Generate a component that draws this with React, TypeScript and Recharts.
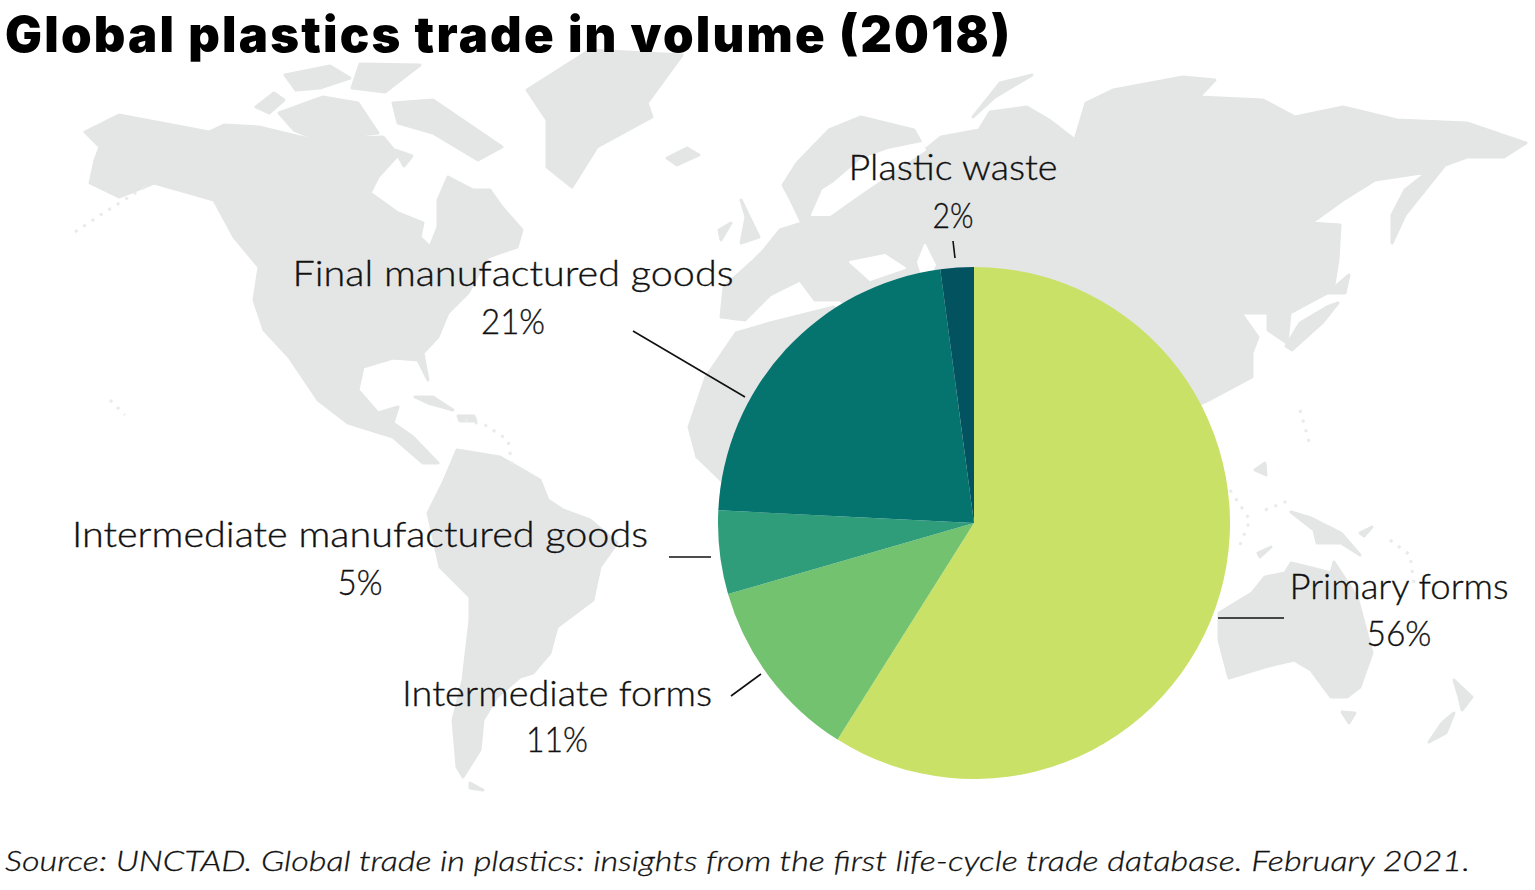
import { PieChart, Pie, Cell } from 'recharts';

const WIDTH = 1535;
const HEIGHT = 890;

const categories = ['Primary forms', 'Intermediate forms', 'Intermediate manufactured goods', 'Final manufactured goods', 'Plastic waste'];
const shares = [56, 11, 5, 21, 2];
const colors = ['#c9e166', '#73c26f', '#2f9d79', '#05746f', '#02535f'];

const pieData = categories.map((name, i) => ({ name, value: shares[i] }));

// label placement, same order as categories: [centre x, name baseline, pct baseline, name width, pct width]
const labelSpots = [
  [1399, 599, 646, 219, 65],
  [557, 706, 752, 310, 62],
  [360, 547, 595, 576, 45],
  [513, 286, 334, 441, 64],
  [953, 180, 228, 209, 41],
];
const leaderLines = [
  [1218, 618, 1284, 618],
  [731, 696, 761, 674],
  [669, 557, 711, 557],
  [633, 331, 745, 397],
  [953, 241, 955, 258],
];

// background world map, only decoration, page coordinates
const landShapes = [
  // north america
  '85,132 119,115 209,132 224,125 259,127 313,140 348,138 383,137 398,155 378,177 370,193 398,213 423,223 420,237 430,247 438,227 438,200 448,177 473,190 490,190 502,207 522,230 517,247 488,257 468,293 448,313 438,337 423,353 428,380 418,360 393,358 363,367 358,390 378,413 398,407 393,423 413,437 438,463 423,463 393,437 348,423 318,400 289,357 264,330 254,300 259,267 234,237 214,200 154,183 119,197 90,183 95,160 100,147',
  // arctic canada
  '393,103 433,100 502,147 478,160 433,133 398,123',
  '279,113 323,97 358,103 378,133 318,140 294,130',
  '256,107 274,93 284,100 269,113',
  '285,75 330,66 350,78 320,88 296,90',
  '360,64 420,65 385,92 352,88',
  '395,150 412,156 404,166',
  // greenland, iceland
  '590,50 682,55 647,103 652,117 597,147 572,187 547,167 547,120 527,90',
  '667,158 687,148 699,155 677,165',
  // caribbean
  '415,397 433,397 453,410 428,403',
  '458,416 474,416 476,421 460,421',
  // south america
  '457,450 500,457 540,480 548,500 563,510 590,520 617,543 600,567 593,600 557,627 550,653 533,673 520,677 497,697 483,720 480,750 463,777 457,767 453,720 463,680 470,620 470,597 440,567 428,513 443,483',
  '470,783 483,790 470,788',
  // eurasia
  '721,317 724,287 754,260 764,250 780,230 802,223 791,200 783,185 797,163 829,130 861,117 914,130 925,150 941,137 979,130 990,112 1027,107 1049,120 1075,140 1086,103 1113,90 1183,77 1215,80 1199,97 1263,100 1295,117 1343,107 1397,120 1467,123 1526,143 1504,157 1467,157 1445,165 1425,190 1405,215 1392,243 1392,215 1405,190 1428,172 1375,180 1343,200 1311,223 1340,225 1338,260 1333,290 1290,313 1287,343 1268,330 1268,313 1241,313 1258,337 1252,353 1252,377 1209,400 1100,450 974,400 840,300 815,300 800,280 770,295 745,320',
  // africa
  '736,333 770,323 834,307 900,400 800,560 724,483 697,457 689,427 706,377',
  // novaya zemlya, britain
  '973,117 1000,83 1032,75 995,97',
  '741,200 759,237 741,243 746,217',
  '719,230 731,223 721,240',
  // japan
  '1338,303 1322,323 1292,350 1286,346 1300,323 1327,307',
  '1328,293 1349,275 1345,293',
  // australia and around
  '1219,613 1252,593 1265,577 1285,573 1291,563 1308,567 1331,573 1334,562 1357,597 1372,653 1360,687 1347,697 1331,697 1311,670 1294,660 1265,667 1229,678 1219,640',
  '1342,712 1355,713 1349,723',
  '1454,680 1472,697 1462,710 1459,697',
  '1454,713 1446,733 1429,742 1442,723',
  '1291,512 1311,518 1341,533 1360,555 1341,543 1317,543 1314,530',
  '1255,470 1265,463 1266,475',
  '1258,553 1271,547 1260,557',
  '1360,533 1372,527 1364,536',
];
// seas cut back out of the land
const seaShapes = [
  '834,183 861,160 888,150 922,143 925,150 861,193 830,215 812,215 823,190',
  '850,262 885,255 905,268 870,280',
  '925,245 935,265 925,285 918,262',
];
// strings of tiny islands
const islandChains = [
  '75,232 105,212 145,187',
  '110,400 125,415',
  '465,420 485,425 508,440 512,465',
  '1230,490 1250,520 1240,545',
  '1265,510 1290,500',
  '1390,540 1410,555 1415,590',
  '1300,410 1310,445',
];

const labelFont = "Lato, 'Open Sans', sans-serif";

function renderLabel(props: any) {
  const i = props.index;
  const [x, nameY, pctY, nameW, pctW] = labelSpots[i];
  const [x1, y1, x2, y2] = leaderLines[i];
  return (
    <g key={i}>
      <line x1={x1} y1={y1} x2={x2} y2={y2} stroke="#111" strokeWidth={1.6} />
      <text x={x} y={nameY} textAnchor="middle" fontFamily={labelFont} fontWeight={300} fontSize={35} fill="#111" stroke="#111" strokeWidth={0.35} textLength={nameW} lengthAdjust="spacingAndGlyphs">
        {categories[i]}
      </text>
      <text x={x} y={pctY} textAnchor="middle" fontFamily={labelFont} fontWeight={300} fontSize={35} fill="#111" stroke="#111" strokeWidth={0.35} textLength={pctW} lengthAdjust="spacingAndGlyphs">
        {`${shares[i]}%`}
      </text>
    </g>
  );
}

export default function App() {
  return (
    <div style={{ position: 'absolute', left: 0, top: 0, width: WIDTH, height: HEIGHT, background: '#fff', overflow: 'hidden' }}>
      <svg width={WIDTH} height={HEIGHT} style={{ position: 'absolute', left: 0, top: 0 }}>
        {landShapes.map((pts, i) => <polygon key={i} points={pts} fill="#e4e6e6" stroke="#e4e6e6" strokeWidth={3} strokeLinejoin="round" />)}
        {seaShapes.map((pts, i) => <polygon key={i} points={pts} fill="#fff" stroke="#fff" strokeWidth={2} strokeLinejoin="round" />)}
        {islandChains.map((pts, i) => <polyline key={i} points={pts} fill="none" stroke="#e9ebeb" strokeWidth={3} strokeDasharray="3 7" />)}
        <text x={5} y={52} fontFamily="Inter, sans-serif" fontWeight={900} fontSize={49} fill="#000" textLength={1005} lengthAdjust="spacing">
          Global plastics trade in volume (2018)
        </text>
        <text x={5} y={871} fontFamily={labelFont} fontWeight={300} fontStyle="italic" fontSize={28} fill="#111" stroke="#111" strokeWidth={0.3} textLength={1465} lengthAdjust="spacingAndGlyphs">
          Source: UNCTAD. Global trade in plastics: insights from the first life-cycle trade database. February 2021.
        </text>
      </svg>
      <div style={{ position: 'absolute', left: 0, top: 0 }}>
        <PieChart width={WIDTH} height={HEIGHT} margin={{ top: 0, right: 0, bottom: 0, left: 0 }}>
          <Pie
            data={pieData}
            dataKey="value"
            nameKey="name"
            cx={974}
            cy={523}
            outerRadius={256}
            startAngle={90}
            endAngle={-270}
            stroke="none"
            label={renderLabel}
            labelLine={false}
            isAnimationActive={false}
          >
            {pieData.map((_, idx) => <Cell key={idx} fill={colors[idx]} />)}
          </Pie>
        </PieChart>
      </div>
    </div>
  );
}
